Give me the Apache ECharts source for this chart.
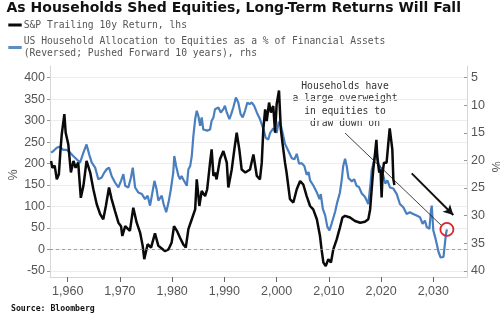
<!DOCTYPE html>
<html><head><meta charset="utf-8">
<script src="https://cdn.jsdelivr.net/npm/echarts@6/dist/echarts.min.js"></script>
<style>html,body{margin:0;padding:0;background:#fff}#c{width:500px;height:322px}</style>
</head><body><div id="c"></div>
<script>
const titleText = 'As Households Shed Equities, Long-Term Returns Will Fall';
const blackName = 'S&P Trailing 10y Return, lhs';
const blueName = 'US Household Allocation to Equities as a % of Financial Assets\n(Reversed; Pushed Forward 10 years), rhs';
const noteText = 'Households have\na large overweight\nin equities to\ndraw down on';
const sourceText = 'Source: Bloomberg';

// S&P trailing 10y return (%), left axis
const blackYears = [1956.8,1957.05,1957.5,1957.9,1958.3,1958.6,1958.85,1959.35,1959.6,1960.1,1960.6,1961.1,1961.5,1962.0,1962.5,1963.0,1963.6,1964.3,1964.9,1965.55,1966.2,1966.8,1967.3,1967.9,1968.4,1969.05,1969.7,1970.2,1970.45,1971.0,1971.9,1972.55,1973.2,1973.85,1974.35,1974.65,1975.3,1975.95,1976.7,1977.35,1978.0,1978.6,1979.3,1979.9,1980.35,1980.9,1981.5,1982.1,1982.6,1983.1,1983.75,1984.4,1984.7,1985.2,1985.65,1986.3,1986.7,1987.25,1987.55,1987.9,1988.2,1988.5,1989.15,1989.8,1990.45,1990.75,1991.4,1991.9,1992.35,1992.85,1993.3,1994.0,1994.9,1995.55,1996.2,1996.8,1997.15,1997.45,1997.8,1998.1,1998.55,1998.9,1999.35,1999.7,2000.0,2000.45,2000.8,2001.1,2001.6,2001.9,2002.55,2003.2,2003.85,2004.5,2005.1,2005.75,2006.4,2007.0,2007.7,2008.3,2008.6,2008.95,2009.4,2009.9,2010.4,2010.85,2011.5,2012.1,2012.6,2013.1,2014.05,2015.0,2016.0,2016.9,2017.55,2017.9,2018.2,2018.5,2018.85,2019.1,2019.3,2019.65,2019.9,2020.1,2020.3,2020.55,2021.05,2021.4,2021.65,2021.9,2022.15,2022.35,2022.55];
const blackValues = [206,190,195,163,175,230,268,315,272,245,179,206,190,202,120,148,206,179,140,105,82,70,101,144,117,89,62,54,31,54,43,97,62,39,8,-23,12,4,37,8,2,-4,0,16,54,43,27,12,4,47,70,93,163,101,136,124,140,202,233,171,179,163,210,229,202,144,186,233,272,233,186,179,186,221,171,163,202,280,326,299,342,319,334,272,338,370,280,250,202,179,117,109,140,159,151,124,101,93,70,31,0,-31,-39,-23,-31,0,23,50,74,78,74,66,62,64,70,93,140,186,225,255,210,179,186,121,179,202,202,249,282,280,233,163,150];

// Household equity allocation (% of financial assets), right axis reversed, pushed forward 10y
const blueYears = [1956.8,1957.25,1957.9,1958.5,1959.15,1959.8,1960.45,1961.05,1961.7,1962.35,1963.0,1963.6,1964.1,1964.6,1965.25,1965.85,1966.5,1967.0,1967.45,1967.9,1968.4,1969.05,1969.7,1970.2,1970.65,1971.0,1971.6,1972.1,1972.45,1972.9,1973.5,1974.2,1974.8,1975.3,1975.75,1976.1,1976.6,1977.0,1977.35,1977.7,1978.0,1978.35,1978.85,1979.3,1979.7,1980.2,1980.4,1980.75,1981.2,1981.5,1981.8,1982.1,1982.45,1982.8,1983.1,1983.45,1983.75,1984.05,1984.4,1984.7,1985.0,1985.35,1985.65,1985.95,1986.3,1986.7,1987.25,1987.55,1987.9,1988.2,1988.5,1988.85,1989.3,1989.8,1990.1,1990.45,1990.95,1991.3,1991.7,1992.2,1992.65,1993.1,1993.5,1993.95,1994.4,1994.8,1995.25,1995.7,1996.2,1996.8,1997.15,1997.5,1997.9,1998.4,1998.75,1999.35,2000.0,2000.4,2000.9,2001.6,2002.25,2002.9,2003.4,2003.85,2004.3,2004.8,2005.3,2005.75,2006.1,2006.4,2007.0,2007.7,2008.2,2008.45,2008.85,2009.3,2009.7,2010.1,2010.55,2011.2,2011.6,2012.1,2012.45,2012.75,2013.1,2013.45,2013.75,2014.4,2014.85,2015.3,2015.75,2016.3,2016.9,2017.55,2018.0,2018.2,2018.85,2019.1,2019.5,2020.15,2020.8,2021.2,2021.7,2022.35,2023.0,2023.6,2024.25,2024.9,2025.5,2026.15,2026.8,2027.45,2027.95,2028.4,2028.75,2029.25,2029.55,2029.7,2030.0,2030.35,2030.65,2031.0,2031.4,2031.95,2032.15,2032.4,2032.6];
const blueValues = [18.6,18.3,17.7,17.5,18.1,18.1,18.6,19.2,19.8,20.4,18.6,17.1,18.9,20.4,21.3,23.4,23.1,22.2,21.6,21.3,22.8,24.0,24.9,23.7,22.5,24.6,24.9,23.1,21.3,24.9,25.8,26.1,27.0,26.4,28.2,26.4,23.7,25.2,27.3,27.6,26.4,27.9,29.4,27.6,25.5,22.2,19.2,21.0,22.8,23.4,22.8,23.4,23.1,24.6,21.6,21.0,19.2,15.6,12.5,11.0,11.9,13.7,12.2,14.4,14.1,14.6,14.4,12.8,12.2,10.7,11.0,10.4,11.3,10.7,10.1,11.3,12.5,11.6,10.4,8.6,9.5,11.6,12.2,11.0,9.5,9.8,9.5,10.1,11.3,12.5,12.8,14.4,15.9,16.2,15.0,14.2,15.0,13.0,14.0,17.0,18.3,19.6,19.8,18.8,20.6,20.5,21.0,22.6,22.1,23.6,24.5,25.8,27.0,26.1,28.8,30.0,32.0,32.7,31.4,29.3,27.6,25.9,23.6,21.0,19.7,21.2,23.2,23.8,23.4,24.6,24.8,26.0,26.6,27.9,24.0,21.8,19.4,18.0,20.6,21.8,24.2,23.6,24.9,25.1,26.1,27.9,28.5,29.7,29.4,29.7,30.0,30.3,31.5,30.9,32.1,32.4,29.0,28.2,32.7,33.9,35.1,36.6,37.6,37.5,35.7,33.5,32.5];

const BLACK = '#0a0a0a';
const BLUE = '#4a7fbf';
const RED = '#d9252b';
const AXIS_GRAY = '#d6d6d6';
const LABEL_GRAY = '#555';

const blackData = blackYears.map((y, i) => [y, blackValues[i]]);
const blueData = blueYears.map((y, i) => [y, blueValues[i]]);
const lastBlue = blueData[blueData.length - 1];

const labelStyle = {fontFamily: 'Liberation Sans', fontSize: 12.5, color: LABEL_GRAY};

const chart = echarts.init(document.getElementById('c'), null, {renderer: 'canvas'});
chart.setOption({
  animation: false,
  backgroundColor: '#fff',
  title: {
    text: titleText, left: 6.5, top: 1, padding: 0,
    textStyle: {fontFamily: 'DejaVu Sans', fontWeight: 'bold', fontSize: 14, color: '#111'}
  },
  legend: {
    orient: 'vertical', left: 8.3, top: 19.2, padding: 0,
    itemWidth: 13.4, itemHeight: 3, itemGap: 5.1, icon: 'rect', selectedMode: false,
    data: [{name: blackName, itemStyle: {color: BLACK}}, {name: blueName, itemStyle: {color: '#5d8cc6'}}],
    textStyle: {fontFamily: 'DejaVu Sans Mono', fontSize: 9.7, lineHeight: 11.6, color: LABEL_GRAY, padding: [0, 0, 0, -3]}
  },
  grid: [
    {left: 50, right: 33, top: 66, bottom: 45},
    {left: 50, right: 33, top: 77.7, bottom: 51.25},
    {left: 67.7, right: 66.7, top: 66, bottom: 45}
  ],
  xAxis: [
    {gridIndex: 0, type: 'value', min: 0, max: 1, axisLine: {show: true, onZero: false, lineStyle: {color: AXIS_GRAY}},
     axisTick: {show: false}, axisLabel: {show: false}, splitLine: {show: false}},
    {gridIndex: 1, type: 'value', min: 1956.6, max: 2036.45, show: false, splitLine: {show: false}},
    {gridIndex: 2, type: 'value', min: 1960, max: 2030, interval: 10,
     axisLine: {show: false, onZero: false}, axisTick: {show: true, length: 5, lineStyle: {color: '#666'}},
     axisLabel: Object.assign({margin: 8}, labelStyle), splitLine: {show: false}}
  ],
  yAxis: [
    {gridIndex: 0, type: 'value', min: 0, max: 1, position: 'left',
     axisLine: {show: true, onZero: false, lineStyle: {color: AXIS_GRAY}}, axisTick: {show: false}, axisLabel: {show: false}, splitLine: {show: false}},
    {gridIndex: 0, type: 'value', min: 0, max: 1, position: 'right',
     axisLine: {show: true, onZero: false, lineStyle: {color: AXIS_GRAY}}, axisTick: {show: false}, axisLabel: {show: false}, splitLine: {show: false}},
    {gridIndex: 1, type: 'value', min: -50, max: 400, interval: 50, position: 'left',
     axisLine: {show: false, onZero: false}, axisTick: {show: true, length: 3, lineStyle: {color: '#999'}},
     axisLabel: Object.assign({margin: 5}, labelStyle), splitLine: {show: true, lineStyle: {color: '#ededed', width: 1}}},
    {gridIndex: 1, type: 'value', min: 5, max: 40, interval: 5, inverse: true, position: 'right',
     axisLine: {show: false, onZero: false}, axisTick: {show: true, inside: true, length: 3, lineStyle: {color: '#999'}},
     axisLabel: Object.assign({margin: 4}, labelStyle), splitLine: {show: false}},
    {gridIndex: 2, type: 'value', show: false}
  ],
  series: [
    {
      name: blueName, type: 'line', xAxisIndex: 1, yAxisIndex: 3, data: blueData,
      symbol: 'none', lineStyle: {color: BLUE, width: 2.2}, itemStyle: {color: BLUE}, silent: true,
      markPoint: {
        symbol: 'circle', symbolSize: 13, silent: true,
        itemStyle: {color: 'rgba(255,255,255,0)', borderColor: RED, borderWidth: 1.8},
        label: {show: false},
        data: [{coord: lastBlue}]
      }
    },
    {
      name: blackName, type: 'line', xAxisIndex: 1, yAxisIndex: 2, data: blackData,
      symbol: 'none', lineStyle: {color: BLACK, width: 2.5}, itemStyle: {color: BLACK}, silent: true,
      markLine: {
        silent: true, symbol: 'none', label: {show: false},
        data: [
          {yAxis: 0, lineStyle: {type: [3, 3], color: '#8a8a8a', width: 0.8}},
          [{coord: [2013.1, 271], symbol: 'none', lineStyle: {color: '#111', width: 0.8, type: 'solid'}},
           {coord: [2031.55, 55.5], symbol: 'none'}],
          [{coord: [2025.86, 177], symbol: 'none', lineStyle: {color: '#111', width: 2, type: 'solid'}},
           {coord: [2033.83, 80], symbol: 'arrow', symbolSize: [8, 10]}]
        ]
      }
    }
  ],
  graphic: [
    {type: 'text', x: 345, y: 80.5, silent: true,
     style: {text: noteText, align: 'center', verticalAlign: 'top', fontFamily: 'DejaVu Sans Mono', fontSize: 9.7, lineHeight: 12.3, fill: '#333'}},
    {type: 'text', x: 13.3, y: 175, rotation: Math.PI / 2, silent: true,
     style: {text: '%', align: 'center', verticalAlign: 'middle', fontFamily: 'Liberation Sans', fontSize: 12.5, fill: LABEL_GRAY}},
    {type: 'text', x: 495, y: 166.7, rotation: -Math.PI / 2, silent: true,
     style: {text: '%', align: 'center', verticalAlign: 'middle', fontFamily: 'Liberation Sans', fontSize: 12.5, fill: LABEL_GRAY}},
    {type: 'text', x: 11, y: 309.3, silent: true,
     style: {text: sourceText, align: 'left', verticalAlign: 'middle', fontFamily: 'DejaVu Sans Mono', fontWeight: 'bold', fontSize: 8.2, fill: '#111'}}
  ]
});
</script>
</body></html>
